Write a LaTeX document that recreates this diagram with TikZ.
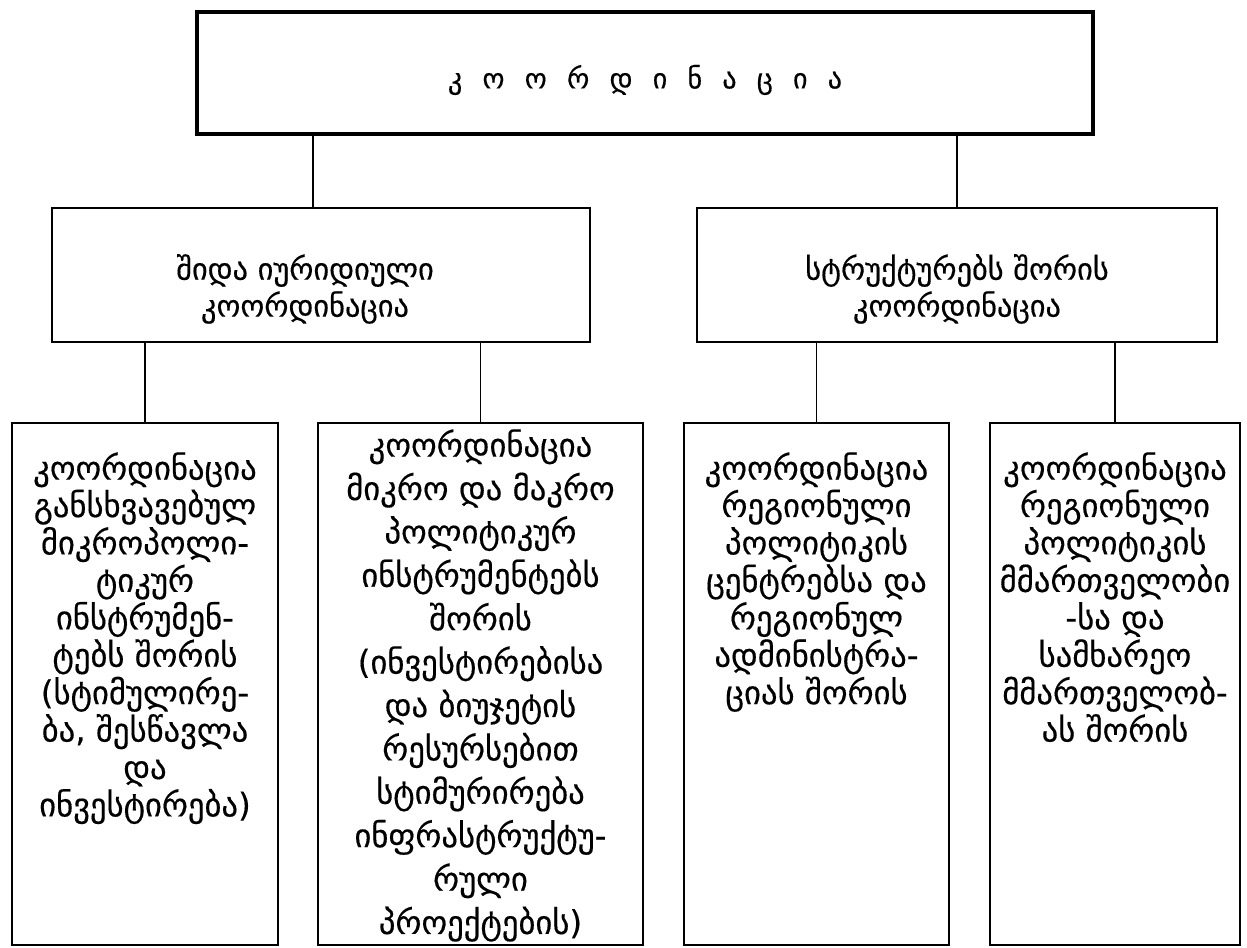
\documentclass[tikz,border=0pt]{standalone}
\usepackage{fontspec}
\setmainfont[FakeBold=0.4]{DejaVu Sans}
\newfontfamily\geowide[LetterSpace=40,FakeBold=0.4]{DejaVu Sans}
\begin{document}
\begin{tikzpicture}[x=0.02cm,y=-0.02cm,
		box/.style={draw, line width=1.4pt, inner sep=0pt},
		topbox/.style={box, line width=2.4pt},
		txt/.style={align=center, inner sep=0pt, font=\fontsize{18.6}{21.3}\selectfont},
		link/.style={line width=0.9pt}]
	\useasboundingbox (0,0) rectangle (1247,947);
	% top level
	\node[topbox, minimum width=17.92cm, minimum height=2.44cm] (coord) at (645,73) {};
	\node[txt, font=\geowide\fontsize{16}{18}\selectfont] (coordt) at (645,80) {კ ო ო რ დ ი ნ ა ც ი ა};
	
	% second level
	\node[box, minimum width=10.76cm, minimum height=2.68cm] (inner) at (321,275) {};
	\node[txt, font=\fontsize{17.3}{21}\selectfont] (innert) at (305,289) {შიდა იურიდიული\\კოორდინაცია};
	\node[box, minimum width=10.4cm, minimum height=2.68cm] (struct) at (957,275) {};
	\node[txt, font=\fontsize{17.3}{21}\selectfont] (structt) at (957,289) {სტრუქტურებს შორის\\კოორდინაცია};
	\coordinate (jinner) at (313,208);
	\draw[link] (jinner) -- (jinner |- coord.south);
	\draw[link] (struct.north) -- (struct.north |- coord.south);
	
	% third level
	\node[box, minimum width=5.32cm, minimum height=10.44cm] (micro) at (145,684) {};
	\node[box, minimum width=6.5cm, minimum height=10.44cm] (macro) at (480.5,684) {};
	\node[box, minimum width=5.3cm, minimum height=10.44cm] (centre) at (816.5,684) {};
	\node[box, minimum width=5.0cm, minimum height=10.44cm] (govern) at (1115,684) {};
	\foreach \b/\p in {micro/inner, macro/inner, centre/struct, govern/struct}
		\draw[link] (\b.north) -- (\b.north |- \p.south);
	
	\node[txt, anchor=north] (microt) at (145,452) {კოორდინაცია\\განსხვავებულ\\მიკროპოლი-\\ტიკურ\\ინსტრუმენ-\\ტებს შორის\\(სტიმულირე-\\ბა, შესწავლა\\და\\ინვესტირება)};
	\node[txt, anchor=north, font=\fontsize{18.6}{24.7}\selectfont] (macrot) at (480.5,429) {კოორდინაცია\\მიკრო და მაკრო\\პოლიტიკურ\\ინსტრუმენტებს\\შორის\\(ინვესტირებისა\\და ბიუჯეტის\\რესურსებით\\სტიმურირება\\ინფრასტრუქტუ-\\რული\\პროექტების)};
	\node[txt, anchor=north] (centret) at (816.5,452) {კოორდინაცია\\რეგიონული\\პოლიტიკის\\ცენტრებსა და\\რეგიონულ\\ადმინისტრა-\\ციას შორის};
	\node[txt, anchor=north] (governt) at (1115,452) {კოორდინაცია\\რეგიონული\\პოლიტიკის\\მმართველობი\\-სა და\\სამხარეო\\მმართველობ-\\ას შორის};
\end{tikzpicture}
\end{document}
